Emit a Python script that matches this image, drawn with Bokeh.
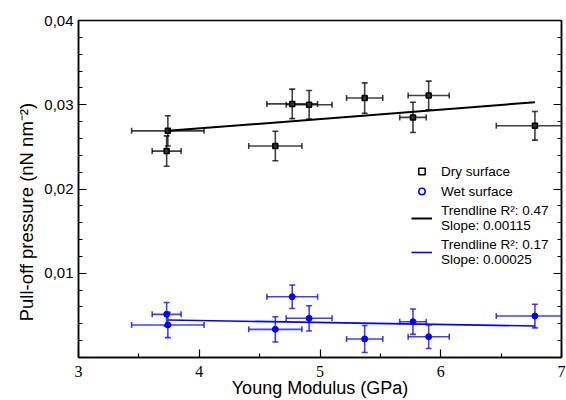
from math import pi
import numpy as np
from bokeh.plotting import figure
from bokeh.models import (Range1d, FixedTicker, LinearAxis, ColumnDataSource,
                          Legend, LegendItem)
from bokeh.embed import file_html
from bokeh.resources import INLINE

# ---------------- data ----------------
dry_modulus = [3.74, 3.73, 4.63, 4.77, 4.91, 5.37, 5.77, 5.90, 6.78]
dry_pressure = [0.0269, 0.0245, 0.0251, 0.0301, 0.0300, 0.0308, 0.0285, 0.0311, 0.0275]
dry_modulus_err = [0.30, 0.12, 0.22, 0.21, 0.19, 0.15, 0.11, 0.17, 0.32]
dry_pressure_err = [0.0018, 0.0018, 0.00175, 0.00175, 0.0017, 0.0018, 0.0018, 0.0017, 0.0017]

wet_modulus = [3.74, 3.73, 4.63, 4.77, 4.91, 5.37, 5.77, 5.90, 6.78]
wet_pressure = [0.00386, 0.00512, 0.00334, 0.00721, 0.00465, 0.0022, 0.00425, 0.00247, 0.00492]
wet_modulus_err = [0.30, 0.12, 0.22, 0.21, 0.19, 0.15, 0.11, 0.17, 0.32]
wet_pressure_err = [0.0015, 0.0014, 0.0015, 0.0014, 0.0015, 0.0016, 0.0015, 0.0014, 0.0014]

dry_trend_modulus = [3.74, 6.78]
dry_trend_pressure = [0.0269, 0.0303]
wet_trend_modulus = [3.74, 6.78]
wet_trend_pressure = [0.00445, 0.00374]

x_ticks = [3, 4, 5, 6, 7]
x_minor = [3.5, 4.5, 5.5, 6.5]
y_ticks = [0.01, 0.02, 0.03, 0.04]
y_tick_labels = ["0,01", "0,02", "0,03", "0,04"]
y_minor = [0.002, 0.004, 0.006, 0.008, 0.012, 0.014, 0.016, 0.018,
           0.022, 0.024, 0.026, 0.028, 0.032, 0.034, 0.036, 0.038]

legend_labels = ["Dry surface", "Wet surface",
                 "Trendline R\u00b2: 0.47\nSlope: 0.00115",
                 "Trendline R\u00b2: 0.17\nSlope: 0.00025"]

SANS = "Liberation Sans"
SERIF = "Liberation Serif"

p = figure(width=566, height=400, output_backend="svg", toolbar_location=None,
           x_range=Range1d(3, 7), y_range=Range1d(0, 0.04),
           min_border_left=78, min_border_right=5, min_border_top=20,
           min_border_bottom=42, x_axis_type=None, y_axis_type=None)
p.background_fill_color = "white"
p.border_fill_color = "white"
p.outline_line_color = "black"
p.outline_line_width = 1.5
p.xgrid.visible = False
p.ygrid.visible = False

xt = FixedTicker(ticks=x_ticks, minor_ticks=x_minor)
yt = FixedTicker(ticks=y_ticks, minor_ticks=y_minor)

xaxis = LinearAxis(ticker=xt, axis_label="Young Modulus (GPa)")
# trailing no-break spaces shift the centred label down, as in the reference
yaxis = LinearAxis(ticker=yt,
                   axis_label="Pull-off pressure (nN nm\u207b\u00b2)" + "\u00a0" * 9)
yaxis_r = LinearAxis(ticker=yt)
for ax in (xaxis, yaxis, yaxis_r):
    ax.axis_line_color = "black"
    ax.axis_line_width = 1.5
    ax.major_tick_line_color = "black"
    ax.minor_tick_line_color = "black"
    ax.major_tick_line_width = 1.2
    ax.minor_tick_line_width = 1.2
    ax.major_tick_in = 8
    ax.major_tick_out = 0
    ax.minor_tick_in = 4
    ax.minor_tick_out = 0

xaxis.major_label_text_font = SERIF
xaxis.major_label_text_font_size = "16px"
xaxis.major_label_text_color = "black"
xaxis.major_label_standoff = 8
xaxis.axis_label_text_font = SANS
xaxis.axis_label_text_font_size = "18px"
xaxis.axis_label_text_font_style = "normal"
xaxis.axis_label_text_color = "black"
xaxis.axis_label_standoff = -2

yaxis.major_label_overrides = {t: l for t, l in zip(y_ticks, y_tick_labels)}
yaxis.major_label_text_font = SANS
yaxis.major_label_text_font_size = "15px"
yaxis.major_label_text_color = "black"
yaxis.major_label_standoff = 5
yaxis.axis_label_text_font = SANS
yaxis.axis_label_text_font_size = "18.5px"
yaxis.axis_label_text_font_style = "normal"
yaxis.axis_label_text_color = "black"
yaxis.axis_label_standoff = 4

yaxis_r.major_label_text_font_size = "1px"
yaxis_r.major_label_text_color = None
yaxis_r.major_label_standoff = 0

p.add_layout(xaxis, "below")
p.add_layout(yaxis, "left")
p.add_layout(yaxis_r, "right")


def draw_series(xs, ys, xe, ye, color, bar_alpha):
    xs = np.array(xs); ys = np.array(ys); xe = np.array(xe); ye = np.array(ye)
    src = ColumnDataSource(dict(x=xs, y=ys, xl=xs - xe, xr=xs + xe, yl=ys - ye, yu=ys + ye))
    p.segment(x0="xl", y0="y", x1="xr", y1="y", source=src, line_color=color,
              line_width=1.6, line_alpha=bar_alpha)
    p.segment(x0="x", y0="yl", x1="x", y1="yu", source=src, line_color=color,
              line_width=1.6, line_alpha=bar_alpha)
    for col in ("xl", "xr"):
        p.scatter(x=col, y="y", source=src, marker="dash", angle=pi / 2, size=6,
                  line_color=color, line_width=1.6, line_alpha=bar_alpha)
    for col in ("yl", "yu"):
        p.scatter(x="x", y=col, source=src, marker="dash", size=6,
                  line_color=color, line_width=1.6, line_alpha=bar_alpha)
    return src


dsrc = draw_series(dry_modulus, dry_pressure, dry_modulus_err, dry_pressure_err, "black", 0.75)
wsrc = draw_series(wet_modulus, wet_pressure, wet_modulus_err, wet_pressure_err, "#0000ff", 0.75)

p.scatter(x="x", y="y", source=dsrc, marker="square", size=5, line_color="black",
          line_width=1.5, fill_color="#333333")
p.scatter(x="x", y="y", source=wsrc, marker="circle", size=6, line_color="#0000ff",
          line_width=1, fill_color="#0000ff")

dry_line = p.line(dry_trend_modulus, dry_trend_pressure, line_color="black", line_width=2)
wet_line = p.line(wet_trend_modulus, wet_trend_pressure, line_color="#0000ff", line_width=1.6)

# legend-only symbols (open markers); a single NaN point so nothing shows in the plot
nan = float("nan")
leg_dry = p.scatter(x=[nan], y=[nan], marker="square", line_color="black", line_width=1.5,
                    fill_color=None)
leg_wet = p.scatter(x=[nan], y=[nan], marker="circle", line_color="#0000ff", line_width=1.5,
                    fill_color=None)

legend = Legend(items=[
    LegendItem(label=legend_labels[0], renderers=[leg_dry]),
    LegendItem(label=legend_labels[1], renderers=[leg_wet]),
    LegendItem(label=legend_labels[2], renderers=[dry_line]),
    LegendItem(label=legend_labels[3], renderers=[wet_line]),
], location=(333, 90))
legend.background_fill_alpha = 0
legend.border_line_color = None
legend.padding = 0
legend.margin = 0
legend.spacing = 4
legend.glyph_width = 21
legend.glyph_height = 16
legend.label_height = 16
legend.label_standoff = 9
legend.label_text_font = SANS
legend.label_text_font_size = "13.5px"
legend.label_text_color = "black"
legend.label_text_line_height = 1.0
p.add_layout(legend, "center")

open("out.html", "w").write(file_html(p, INLINE))
